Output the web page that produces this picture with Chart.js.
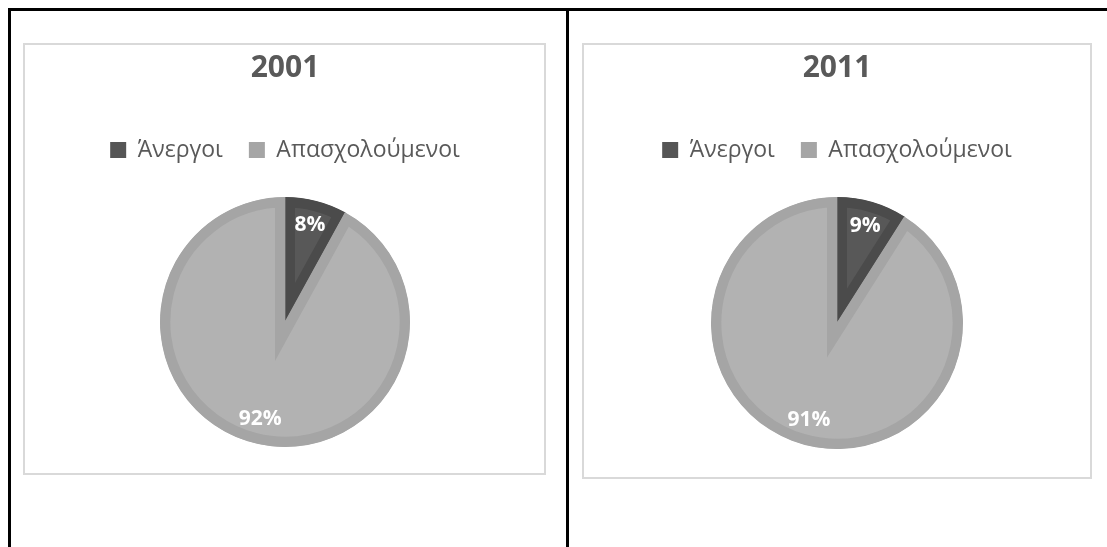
<!DOCTYPE html>
<html lang="el">
<head>
<meta charset="utf-8">
<title>Άνεργοι και απασχολούμενοι 2001 - 2011</title>
<script src="https://cdn.jsdelivr.net/npm/chart.js@4/dist/chart.umd.min.js"></script>
<style>
  html, body { margin: 0; padding: 0; background: #ffffff; }
  body { position: relative; width: 1107px; height: 547px; overflow: hidden; }
  .rule { position: absolute; background: #000000; }
  .frame { position: absolute; box-sizing: border-box; border: 2px solid #d9d9d9; background: #ffffff; }
  canvas { position: absolute; }
</style>
</head>
<body>
  <!-- table grid lines -->
  <div class="rule" style="left:8px; top:8px; width:1099px; height:3px;"></div>
  <div class="rule" style="left:8px; top:8px; width:3px; height:539px;"></div>
  <div class="rule" style="left:566px; top:8px; width:3px; height:539px;"></div>

  <!-- chart frames -->
  <div class="frame" style="left:23px; top:43px; width:523px; height:432px;"></div>
  <div class="frame" style="left:582px; top:43px; width:510px; height:436px;"></div>

  <canvas id="pie2001" width="523" height="440" style="left:23px; top:43px;"></canvas>
  <canvas id="pie2011" width="510" height="442" style="left:582px; top:43px;"></canvas>

<script>
// Categories and shares (%) of the labour force
const categories = ['Άνεργοι', 'Απασχολούμενοι'];
const years = ['2001', '2011'];
const values2001 = [8, 92];
const values2011 = [9, 91];

// Slice fill, slice rim and legend swatch colours per category
const fillColors = ['#585858', '#b2b2b2'];
const rimColors = ['#4b4b4b', '#a5a5a5'];
const swatchColors = ['#555555', '#a5a5a5'];

const textGrey = '#595959';

// Percentage labels placed along each slice's middle angle
const sliceLabels = {
  id: 'sliceLabels',
  afterDatasetsDraw(chart) {
    const ctx = chart.ctx;
    const meta = chart.getDatasetMeta(0);
    const values = chart.data.datasets[0].data;
    const total = values.reduce((a, b) => a + b, 0);
    ctx.save();
    ctx.font = 'bold 21px "Open Sans"';
    ctx.fillStyle = '#ffffff';
    ctx.textAlign = 'center';
    ctx.textBaseline = 'middle';
    meta.data.forEach((arc, i) => {
      const p = arc.getProps(['x', 'y', 'startAngle', 'endAngle', 'outerRadius'], true);
      const mid = (p.startAngle + p.endAngle) / 2;
      const r = p.outerRadius * 0.8;
      const pct = Math.round(values[i] / total * 100) + '%';
      ctx.fillText(pct, p.x + Math.cos(mid) * r, p.y + Math.sin(mid) * r);
    });
    ctx.restore();
  }
};

function makePie(canvasId, year, values, radius, pad) {
  return new Chart(document.getElementById(canvasId), {
    type: 'pie',
    data: {
      labels: categories,
      datasets: [{
        data: values,
        backgroundColor: fillColors,
        borderColor: rimColors,
        borderWidth: 10,
        borderAlign: 'inner',
        borderJoinStyle: 'miter',
        radius: radius,
        hoverOffset: 0
      }]
    },
    options: {
      responsive: false,
      animation: false,
      events: [],
      layout: { padding: pad },
      plugins: {
        title: {
          display: true,
          text: year,
          color: textGrey,
          font: { family: '"Open Sans"', size: 30, weight: 'bold', lineHeight: 1.2 },
          padding: { top: 7, bottom: 26.5 }
        },
        legend: {
          display: true,
          position: 'top',
          labels: {
            color: textGrey,
            font: { family: '"Open Sans"', size: 23 },
            boxWidth: 16,
            boxHeight: 16,
            padding: 26,
            generateLabels(chart) {
              return chart.data.labels.map((text, i) => ({
                text: text,
                fillStyle: swatchColors[i],
                strokeStyle: swatchColors[i],
                lineWidth: 0,
                fontColor: textGrey,
                hidden: false,
                index: i
              }));
            }
          }
        },
        tooltip: { enabled: false }
      }
    },
    plugins: [sliceLabels]
  });
}

makePie('pie2001', years[0], values2001, 125, { left: 1, right: 0, top: 0, bottom: 10.5 });
makePie('pie2011', years[1], values2011, 126, { left: 0, right: 0, top: 0, bottom: 10.5 });
</script>
</body>
</html>
